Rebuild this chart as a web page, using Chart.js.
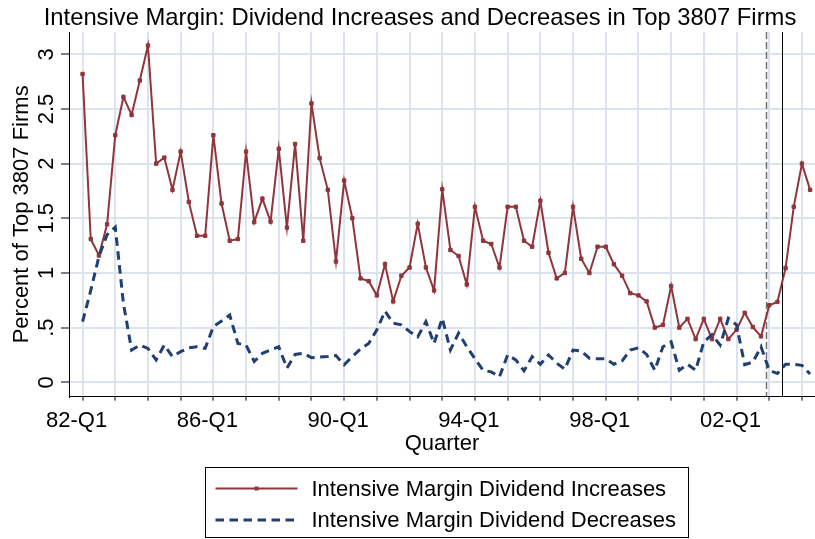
<!DOCTYPE html>
<html>
<head>
<meta charset="utf-8">
<script src="https://cdn.jsdelivr.net/npm/chart.js@4.4.1/dist/chart.umd.min.js"></script>
<style>
    html, body { margin: 0; padding: 0; background: #fff; }
    #wrap { width: 815px; height: 539px; }
</style>
</head>
<body>
<div id="wrap"><canvas id="marginChart" width="815" height="539"></canvas></div>
<script>
// quarterly series, 82-Q1 .. 04-Q2 (percent of top 3807 firms)
const firstYear = 1982;
const increases = [
    2.82, 1.31, 1.16, 1.445, 2.26, 2.61, 2.445, 2.76, 3.08, 2.00,
    2.055, 1.76, 2.11, 1.65, 1.34, 1.34, 2.26, 1.635, 1.295, 1.31,
    2.11, 1.465, 1.68, 1.47, 2.135, 1.415, 2.18, 1.295, 2.55, 2.05,
    1.76, 1.105, 1.845, 1.50, 0.95, 0.925, 0.795, 1.08, 0.74, 0.975,
    1.05, 1.45, 1.05, 0.84, 1.765, 1.21, 1.155, 0.895, 1.605, 1.295,
    1.265, 1.05, 1.605, 1.605, 1.295, 1.24, 1.66, 1.185, 0.95, 1.00,
    1.605, 1.13, 1.00, 1.24, 1.24, 1.08, 0.975, 0.815, 0.795, 0.74,
    0.50, 0.525, 0.88, 0.50, 0.58, 0.395, 0.58, 0.395, 0.58, 0.395,
    0.48, 0.635, 0.505, 0.42, 0.705, 0.735, 1.045, 1.605, 2.00, 1.76
];
const decreases = [
    0.555, 0.84, 1.15, 1.35, 1.42, 0.72, 0.295, 0.34, 0.31, 0.205,
    0.34, 0.235, 0.28, 0.315, 0.325, 0.31, 0.51, 0.56, 0.615, 0.355,
    0.34, 0.19, 0.265, 0.295, 0.325, 0.13, 0.255, 0.265, 0.225, 0.23,
    0.235, 0.245, 0.16, 0.235, 0.305, 0.355, 0.48, 0.65, 0.54, 0.525,
    0.465, 0.415, 0.555, 0.355, 0.585, 0.295, 0.45, 0.325, 0.215, 0.11,
    0.095, 0.05, 0.25, 0.205, 0.105, 0.235, 0.165, 0.25, 0.175, 0.12,
    0.295, 0.285, 0.22, 0.215, 0.215, 0.165, 0.195, 0.295, 0.315, 0.255,
    0.11, 0.325, 0.37, 0.11, 0.165, 0.11, 0.37, 0.435, 0.34, 0.585,
    0.525, 0.16, 0.185, 0.325, 0.11, 0.08, 0.165, 0.165, 0.155, 0.075
];
const xGridTicks = [0, 4, 8, 12, 16, 20, 24, 28, 32, 36, 40, 44, 48, 52, 56, 60, 64, 68, 72, 76, 80, 84, 88];
const xLabelTicks = [0, 16, 32, 48, 64, 80];
const xTickLabels = ['82-Q1', '86-Q1', '90-Q1', '94-Q1', '98-Q1', '02-Q1'];
const yTickValues = [0, 0.5, 1, 1.5, 2, 2.5, 3];
const yTickLabels = ['0', '.5', '1', '1.5', '2', '2.5', '3'];
// reference lines (quarter index): dashed, solid
const eventLines = [83.55, 85.6];
const titleText = 'Intensive Margin: Dividend Increases and Decreases in Top 3807 Firms';

const quarters = increases.map((v, i) => {
    const yr = String((firstYear + Math.floor(i / 4)) % 100).padStart(2, '0');
    return yr + '-Q' + (i % 4 + 1);
});

const RED = '#90353b';
const BLUE = '#213f72';
const GRID = '#dde3ee';
const FONT = "'Liberation Sans', Arial, Helvetica, sans-serif";

Chart.defaults.font.family = FONT;
Chart.defaults.color = '#000';

// title, a bit right of canvas centre like the stata graph
const titlePlugin = {
    id: 'stataTitle',
    afterDraw(chart) {
        const ctx = chart.ctx;
        ctx.save();
        ctx.font = '23.8px ' + FONT;
        ctx.fillStyle = '#000';
        ctx.textAlign = 'center';
        ctx.textBaseline = 'alphabetic';
        ctx.fillText(titleText, 420, 25);
        ctx.restore();
    }
};

// vertical event lines under the series
const eventLinePlugin = {
    id: 'eventLines',
    beforeDatasetsDraw(chart) {
        const {ctx, chartArea, scales: {x}} = chart;
        ctx.save();
        eventLines.forEach((v, k) => {
            const px = Math.round(x.getPixelForValue(v)) + 0.5;
            ctx.beginPath();
            if (k === 0) {
                ctx.strokeStyle = '#707070';
                ctx.lineWidth = 1.5;
                ctx.setLineDash([7, 3]);
            } else {
                ctx.strokeStyle = '#000';
                ctx.lineWidth = 1;
                ctx.setLineDash([]);
            }
            ctx.moveTo(px, chartArea.top);
            ctx.lineTo(px, chartArea.bottom);
            ctx.stroke();
        });
        ctx.restore();
    }
};

// stata style: y labels turned 90 degrees
const yLabelPlugin = {
    id: 'yLabels',
    afterDraw(chart) {
        const {ctx, scales: {y}} = chart;
        ctx.save();
        ctx.font = '22px ' + FONT;
        ctx.fillStyle = '#000';
        ctx.textAlign = 'center';
        ctx.textBaseline = 'alphabetic';
        yTickValues.forEach((v, i) => {
            ctx.save();
            ctx.translate(y.right - 16, y.getPixelForValue(v));
            ctx.rotate(-Math.PI / 2);
            ctx.fillText(yTickLabels[i], 0, 0);
            ctx.restore();
        });
        ctx.restore();
    }
};

// boxed legend, one entry per row
const boxLegendPlugin = {
    id: 'boxLegend',
    afterDraw(chart) {
        const ctx = chart.ctx;
        const left = 205.5, top = 467.5, w = 483, h = 70;
        ctx.save();
        ctx.strokeStyle = '#000';
        ctx.lineWidth = 1;
        ctx.setLineDash([]);
        ctx.strokeRect(left, top, w, h);
        ctx.font = '22px ' + FONT;
        ctx.fillStyle = '#000';
        ctx.textBaseline = 'middle';
        chart.data.datasets.forEach((ds, k) => {
            const ly = top + 21 + k * 31.5;
            ctx.beginPath();
            ctx.strokeStyle = ds.borderColor;
            ctx.lineWidth = ds.borderWidth;
            ctx.setLineDash(ds.borderDash || []);
            ctx.moveTo(left + 10, ly);
            ctx.lineTo(left + 92, ly);
            ctx.stroke();
            ctx.setLineDash([]);
            if (ds.pointRadius > 0) {
                ctx.fillStyle = ds.pointBackgroundColor;
                ctx.fillRect(left + 49, ly - 2, 4, 4);
                ctx.fillStyle = '#000';
            }
            ctx.fillText(ds.label, left + 106, ly + 1);
        });
        ctx.restore();
    }
};

const chartConfig = {
    type: 'line',
    data: {
        datasets: [{
            label: 'Intensive Margin Dividend Increases',
            data: increases.map((v, i) => ({x: i, y: v})),
            borderColor: RED,
            backgroundColor: RED,
            borderWidth: 2,
            pointStyle: 'rect',
            pointRadius: 2.4,
            pointBorderWidth: 1,
            pointBackgroundColor: RED,
            pointBorderColor: RED,
            tension: 0,
            order: 2
        }, {
            label: 'Intensive Margin Dividend Decreases',
            data: decreases.map((v, i) => ({x: i, y: v})),
            borderColor: BLUE,
            backgroundColor: BLUE,
            borderWidth: 3,
            borderDash: [8.5, 5.5],
            pointRadius: 0,
            pointBackgroundColor: BLUE,
            tension: 0,
            order: 1
        }]
    },
    options: {
        responsive: false,
        animation: false,
        devicePixelRatio: 1,
        layout: {
            autoPadding: false,
            padding: { top: 32, left: 0, right: 0, bottom: 0 }
        },
        plugins: {
            legend: { display: false },
            tooltip: { enabled: false },
            title: { display: false }
        },
        scales: {
            x: {
                type: 'linear',
                min: -1.66,
                max: 89.6,
                afterBuildTicks: (scale) => {
                    scale.ticks = xGridTicks.map(v => ({value: v}));
                },
                afterFit: (scale) => { scale.height = 142.3; },
                ticks: {
                    autoSkip: false,
                    maxRotation: 0,
                    minRotation: 0,
                    padding: 7,
                    labelOffset: -6,
                    color: '#000',
                    font: { size: 22 },
                    callback: (v) => {
                        const k = xLabelTicks.indexOf(v);
                        return k >= 0 ? xTickLabels[k] : '';
                    }
                },
                grid: {
                    color: GRID,
                    lineWidth: 2,
                    tickColor: '#000',
                    tickWidth: 1,
                    tickLength: 4
                },
                border: { color: '#000', width: 1 },
                title: {
                    display: true,
                    text: 'Quarter',
                    color: '#000',
                    font: { size: 22 },
                    padding: { top: 0, bottom: 82 }
                }
            },
            y: {
                type: 'linear',
                min: -0.132,
                max: 3.204,
                afterBuildTicks: (scale) => {
                    scale.ticks = yTickValues.map(v => ({value: v}));
                },
                afterFit: (scale) => { scale.width = 69; },
                ticks: { display: false },
                grid: {
                    color: GRID,
                    lineWidth: 2,
                    tickColor: '#000',
                    tickWidth: 1,
                    tickLength: 8
                },
                border: { color: '#000', width: 1 },
                title: {
                    display: true,
                    text: 'Percent of Top 3807 Firms',
                    color: '#000',
                    font: { size: 22 },
                    padding: { top: 8.8, bottom: 0 }
                }
            }
        }
    },
    plugins: [titlePlugin, eventLinePlugin, yLabelPlugin, boxLegendPlugin]
};

var marginChart = new Chart(
    document.getElementById('marginChart'),
    chartConfig
);
</script>
</body>
</html>
